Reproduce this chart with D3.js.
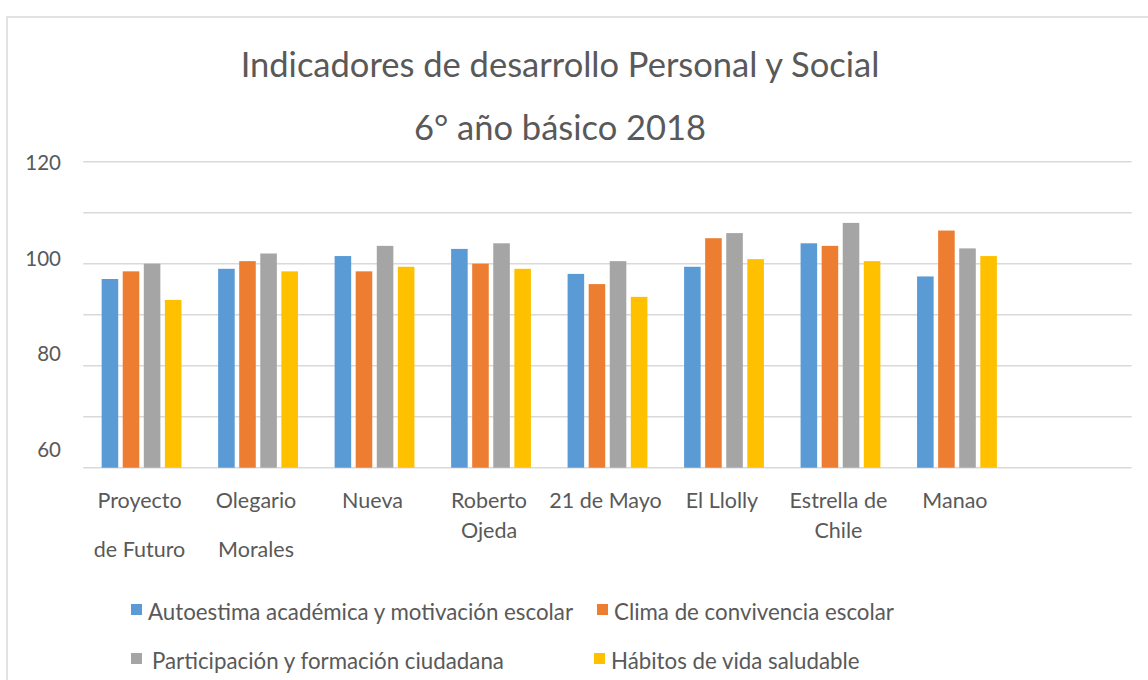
<!DOCTYPE html>
<html>
<head>
<meta charset="utf-8">
<script src="https://cdn.jsdelivr.net/npm/d3@7"></script>
<style>
  body { margin: 0; background: #fff; }
  svg { display: block; font-family: Lato, "Open Sans", sans-serif; }
</style>
</head>
<body>
<svg id="chart" width="1148" height="680"></svg>
<script>
// datos
const categories = [
  ["Proyecto", "", "de Futuro"],
  ["Olegario", "", "Morales"],
  ["Nueva"],
  ["Roberto", "Ojeda"],
  ["21 de Mayo"],
  ["El Llolly"],
  ["Estrella de", "Chile"],
  ["Manao"]
];
const series = [
  "Autoestima académica y motivación escolar",
  "Clima de convivencia escolar",
  "Participación y formación ciudadana",
  "Hábitos de vida saludable"
];
const autoestima = [97.0, 99.0, 101.5, 102.9, 98.0, 99.4, 104.0, 97.5];
const clima = [98.5, 100.5, 98.5, 100.0, 96.0, 105.0, 103.5, 106.5];
const participacion = [100.0, 102.0, 103.5, 104.0, 100.5, 106.0, 108.0, 103.0];
const habitos = [92.9, 98.5, 99.4, 99.0, 93.5, 100.9, 100.5, 101.5];
const yTicks = [60, 80, 100, 120];
const gridTicks = [60, 70, 80, 90, 100, 110, 120];

const colors = ["#5B9BD5", "#ED7D31", "#A5A5A5", "#FFC000"];
const values = [autoestima, clima, participacion, habitos];
const textColor = "#595959";

const svg = d3.select("#chart");

// marco del gráfico
svg.append("rect")
  .attr("x", 7).attr("y", 17)
  .attr("width", 1200).attr("height", 700)
  .attr("fill", "none")
  .attr("stroke", "#d9d9d9")
  .attr("stroke-width", 1.5);

// título
const title = svg.append("g").attr("fill", textColor).attr("text-anchor", "middle")
  .attr("font-size", 34.5);
title.append("text").attr("x", 560).attr("y", 77).text("Indicadores de desarrollo Personal y Social");
title.append("text").attr("x", 560).attr("y", 140).text("6° año básico 2018");

// escalas
const names = categories.map(c => c.join(" "));
const x = d3.scaleBand()
  .domain(names.concat([""]))   // hay un espacio vacío al final
  .range([83.3, 1131.7]);
const xInner = d3.scaleBand()
  .domain(d3.range(series.length))
  .range([0, x.bandwidth()])
  .paddingInner(0.214)
  .paddingOuter(0.87);
const y = d3.scaleLinear().domain([60, 120]).range([467.7, 161.7]);
// las etiquetas del eje no calzan exacto con la grilla en el original
const yLabel = d3.scaleLinear().domain([60, 120]).range([450, 163]);

// grilla
svg.append("g")
  .selectAll("line")
  .data(gridTicks)
  .join("line")
  .attr("x1", 83.3).attr("x2", 1131.7)
  .attr("y1", d => y(d)).attr("y2", d => y(d))
  .attr("stroke", "#d9d9d9")
  .attr("stroke-width", 1.5);

// eje y
const yAxis = svg.append("g")
  .attr("transform", "translate(61,0)")
  .call(d3.axisLeft(yLabel).tickValues(yTicks).tickSize(0).tickPadding(0));
yAxis.select(".domain").remove();
yAxis.selectAll("text")
  .attr("fill", textColor)
  .attr("font-size", 20.5)
  .attr("font-family", "Lato, sans-serif");

// barras
const groups = svg.append("g")
  .selectAll("g")
  .data(names)
  .join("g")
  .attr("transform", d => `translate(${x(d)},0)`);

groups.selectAll("rect")
  .data((d, i) => values.map((s, k) => ({ k: k, v: s[i] })))
  .join("rect")
  .attr("x", d => xInner(d.k))
  .attr("width", xInner.bandwidth())
  .attr("y", d => y(d.v))
  .attr("height", d => y(60) - y(d.v))
  .attr("fill", d => colors[d.k]);

// etiquetas de categorías
const catLabels = svg.append("g")
  .attr("fill", textColor)
  .attr("font-size", 21.5)
  .attr("text-anchor", "middle");
categories.forEach((lines, i) => {
  const cx = x(names[i]) + x.bandwidth() / 2 - 2;
  let ty = 508;
  const t = catLabels.append("text").attr("x", cx);
  lines.forEach(line => {
    if (line) t.append("tspan").attr("x", cx).attr("y", ty).text(line);
    ty += line ? 30 : 19;
  });
});

// leyenda
const legendPos = [[131, 612], [597, 612], [131, 661], [594, 661]];
const legend = svg.append("g")
  .selectAll("g")
  .data(series)
  .join("g")
  .attr("transform", (d, i) => `translate(${legendPos[i][0]},${legendPos[i][1]})`);
legend.append("rect")
  .attr("x", 0).attr("y", -8)
  .attr("width", 11).attr("height", 11)
  .attr("fill", (d, i) => colors[i]);
legend.append("text")
  .attr("x", (d, i) => i === 2 ? 21 : 17)
  .attr("y", 8)
  .attr("fill", textColor)
  .attr("font-size", 22.3)
  .text(d => d);
</script>
</body>
</html>
